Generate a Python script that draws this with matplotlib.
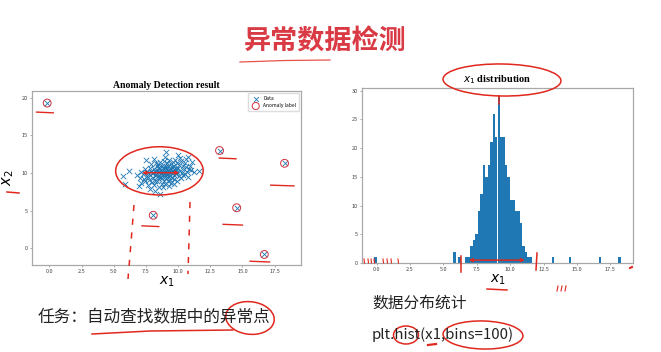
import numpy as np
import matplotlib.pyplot as plt
from matplotlib.patches import Ellipse, FancyArrowPatch
from matplotlib.lines import Line2D

plt.rcParams['font.family'] = ['Noto Sans CJK SC', 'DejaVu Sans']

# ---- data -------------------------------------------------------------
# normal points (blob)
x1_normal = [5.72, 5.86, 6.21,
             6.80, 6.95, 7.05, 7.15, 7.10,
             7.30, 7.40, 7.45, 7.55, 7.50, 7.35, 7.58,
             7.65, 7.70, 7.75, 7.80, 7.85, 7.90, 7.95, 7.68, 7.88, 7.82, 7.99,
             8.05, 8.10, 8.15, 8.20, 8.25, 8.30, 8.35, 8.12, 8.28, 8.38, 8.08, 8.22, 8.33, 8.18,
             8.42, 8.45, 8.50, 8.55, 8.60, 8.62, 8.65, 8.70, 8.75, 8.78, 8.48, 8.52, 8.58, 8.68,
             8.72, 8.44, 8.80,
             8.82, 8.85, 8.88, 8.90, 8.92, 8.95, 8.98, 9.00, 9.02, 9.05, 9.08, 9.10, 9.12, 9.15,
             9.18, 9.20, 8.86, 9.03, 9.14, 8.96, 9.06,
             9.22, 9.25, 9.28, 9.30, 9.32, 9.35, 9.38, 9.40, 9.42, 9.45, 9.48, 9.50, 9.52, 9.55,
             9.58, 9.26, 9.36,
             9.62, 9.65, 9.68, 9.70, 9.72, 9.75, 9.78, 9.80, 9.85, 9.88, 9.90, 9.95, 9.98, 9.66,
             10.02, 10.05, 10.10, 10.15, 10.20, 10.25, 10.30, 10.35, 10.38, 10.12,
             10.45, 10.50, 10.55, 10.60, 10.65, 10.70, 10.75, 10.80,
             10.85, 10.90, 11.00, 11.10, 11.20,
             11.66]
x2_normal = [9.55, 8.50, 10.30,
             9.80, 8.30, 9.30, 10.10, 8.70,
             9.90, 10.50, 8.90, 9.60, 11.80, 9.20, 10.20,
             8.40, 10.00, 9.10, 10.70, 9.70, 11.20, 8.80, 9.50, 10.30, 7.90, 10.00,
             9.40, 10.60, 11.90, 9.00, 10.20, 9.70, 10.90, 8.40, 11.30, 8.90, 10.00, 9.80, 10.40, 7.60,
             9.60, 10.10, 10.80, 9.20, 11.50, 7.20, 9.90, 10.40, 8.60, 11.00, 8.10, 10.50, 9.50, 10.00,
             9.30, 11.20, 10.70,
             9.70, 10.20, 11.60, 9.00, 10.50, 9.80, 12.20, 10.10, 8.50, 10.90, 9.40, 10.60, 11.30, 9.90,
             10.30, 8.90, 8.20, 12.80, 10.00, 10.80, 9.60,
             10.40, 11.00, 9.50, 10.20, 11.70, 9.10, 10.70, 9.80, 10.50, 8.70, 11.20, 10.00, 9.40, 10.80,
             11.50, 8.30, 10.10,
             10.30, 9.70, 11.00, 10.60, 9.20, 10.10, 11.80, 9.90, 10.50, 8.90, 11.30, 10.20, 12.40, 8.50,
             10.70, 9.60, 11.10, 10.30, 9.30, 11.60, 10.00, 10.90, 9.80, 12.00,
             10.50, 11.40, 9.90, 10.80, 11.90, 10.20, 9.50, 12.20,
             10.60, 11.00, 10.40, 11.50, 10.10,
             10.30]

# anomalies
x1_anom = [-0.17, 8.07, 13.22, 14.55, 16.70, 18.27]
x2_anom = [19.30, 4.40, 13.00, 5.40, -0.80, 11.30]

# histogram of x1, 100 bins (non-empty bins only)
n_bins = 100
hist_bin = [0, 32, 34, 37, 38, 39, 40, 41, 42, 43, 44, 45, 46, 47, 48, 49, 50,
            51, 52, 53, 54, 55, 56, 57, 58, 59, 60, 61, 62, 63, 72, 79, 91, 99]
hist_cnt = [1, 2, 1, 1, 1, 3, 4, 5, 9, 12, 17, 15, 17, 21, 26, 22, 29,
            22, 22, 17, 15, 11, 11, 9, 9, 7, 3, 2, 1, 1, 1, 1, 1, 1]

RED = '#e0281e'
BLUE = '#1f77b4'

fig = plt.figure(figsize=(6.61, 3.52), dpi=100)
W, H = 661.0, 352.0


def px(x, y):
    return (x / W, 1 - y / H)


def stroke(xs, ys, **kw):
    pts = [px(a, b) for a, b in zip(xs, ys)]
    fig.add_artist(Line2D([p[0] for p in pts], [p[1] for p in pts],
                          color=kw.pop('color', RED), lw=kw.pop('lw', 1.1),
                          transform=fig.transFigure, **kw))


def ring(cx, cy, w, h, angle=0, lw=1.1):
    fig.add_artist(Ellipse(px(cx, cy), w / W, h / H, angle=angle, fill=False,
                           ec=RED, lw=lw, transform=fig.transFigure))


# ---- slide texts ---------------------------------------------------------
fig.text(*px(325, 41), '异常数据检测', fontsize=19.5, fontweight='bold',
         color='#d93a44', ha='center', va='center')
stroke([240, 285, 330], [62, 60.5, 60], lw=0.9, alpha=0.8)

fig.text(*px(38, 318), '任务：自动查找数据中的异常点', fontsize=12,
         color='#222222', ha='left', va='center')
fig.text(*px(372, 303), '数据分布统计', fontsize=11.3,
         color='#222222', ha='left', va='center')
fig.text(*px(372, 335), 'plt.hist(x1,bins=100)', fontsize=10.8,
         color='#222222', ha='left', va='center')

# ---- left: scatter ------------------------------------------------------
ax1 = fig.add_axes([32 / W, 1 - 265 / H, 269 / W, 174 / H])
ax1.scatter(x1_normal + x1_anom, x2_normal + x2_anom, marker='x', s=15,
            linewidths=0.6, color=BLUE, label='Data')
ax1.scatter(x1_anom, x2_anom, s=32, facecolors='none', edgecolors='#d03040',
            linewidths=0.7, label='Anomaly label')
ax1.set_xlim(-1.35, 19.55)
ax1.set_ylim(-2.2, 20.9)
ax1.set_xticks(np.arange(0, 18, 2.5))
ax1.set_yticks([0, 5, 10, 15, 20])
ax1.set_title('Anomaly Detection result', fontsize=7, fontweight='bold',
              family='Liberation Serif', pad=2.5)
ax1.set_xlabel('$x_1$', fontsize=10, labelpad=0)
ax1.set_ylabel('$x_2$', fontsize=10.5, labelpad=4)
ax1.legend(loc='upper right', fontsize=3.5, markerscale=0.9, framealpha=1,
           edgecolor='#dddddd', borderpad=0.5, handletextpad=0.5)

# ---- right: histogram ---------------------------------------------------
ax2 = fig.add_axes([362 / W, 1 - 263 / H, 271 / W, 175 / H])
edges = np.linspace(min(x1_anom), max(x1_anom), n_bins + 1)
counts = np.zeros(n_bins)
counts[hist_bin] = hist_cnt
ax2.hist(edges[:-1], bins=edges, weights=counts, color=BLUE)
ax2.set_xticks(np.arange(0, 18, 2.5))
ax2.set_yticks(np.arange(0, 31, 5))
ax2.set_title('$x_1$ distribution', fontsize=7.5, fontweight='bold',
              family='Liberation Serif', pad=4)
ax2.set_xlabel('$x_1$', fontsize=10, labelpad=0)

for ax in (ax1, ax2):
    for sp in ax.spines.values():
        sp.set_color('#a8a8a8')
        sp.set_linewidth(0.9)
    ax.tick_params(labelsize=4, length=1.5, width=0.5, pad=1.5,
                   color='#888888', labelcolor='#444444')

# ---- red handwriting -----------------------------------------------------
# left chart
ax1.add_patch(Ellipse((8.55, 10.3), 6.8, 6.4, angle=3, fill=False, ec=RED, lw=1.1))
ax1.add_patch(FancyArrowPatch((7.0, 10.05), (10.3, 10.05), arrowstyle='<->',
                              mutation_scale=5, color=RED, lw=1.1))
for (xa, xb, yy) in [(-1.0, 0.3, 18.1), (13.2, 14.5, 12.0), (17.2, 19.0, 8.4),
                     (13.5, 15.0, 3.2), (7.2, 8.5, 3.0), (15.6, 17.1, -1.7)]:
    ax1.plot([xa, xb], [yy, yy - 0.1], color=RED, lw=1.0)
stroke([134, 132, 130, 128], [205, 230, 255, 279], ls=(0, (4, 5)))
stroke([190, 189, 188], [202, 240, 274], ls=(0, (4, 5)))
stroke([7, 19], [192, 193])

# right chart
ring(502, 80, 118, 32, angle=-2)
stroke([499, 499], [96, 104])
ax2.add_patch(FancyArrowPatch((6.7, 0.5), (11.3, 0.5), arrowstyle='<->',
                              mutation_scale=5, color=RED, lw=1.1))
stroke([461, 461], [256, 272])
stroke([537, 536], [253, 270])
for xx in [364, 368, 371, 374, 383, 387, 391, 398]:
    stroke([xx, xx + 0.5], [259, 263], lw=0.8)
for xx in [557, 561, 565]:
    stroke([xx, xx + 1], [291, 286], lw=0.8)
stroke([487, 507], [289, 290])
stroke([630, 632], [268, 267], lw=1.5)

# texts
stroke([92, 150, 233], [334, 331, 330])
ring(250, 318, 48, 33, angle=10)
ring(406, 335, 25, 18)
ring(483, 335, 80, 28, angle=-4)
stroke([428, 436], [345, 344], lw=1.6)

fig.savefig('out.png', dpi=100)
